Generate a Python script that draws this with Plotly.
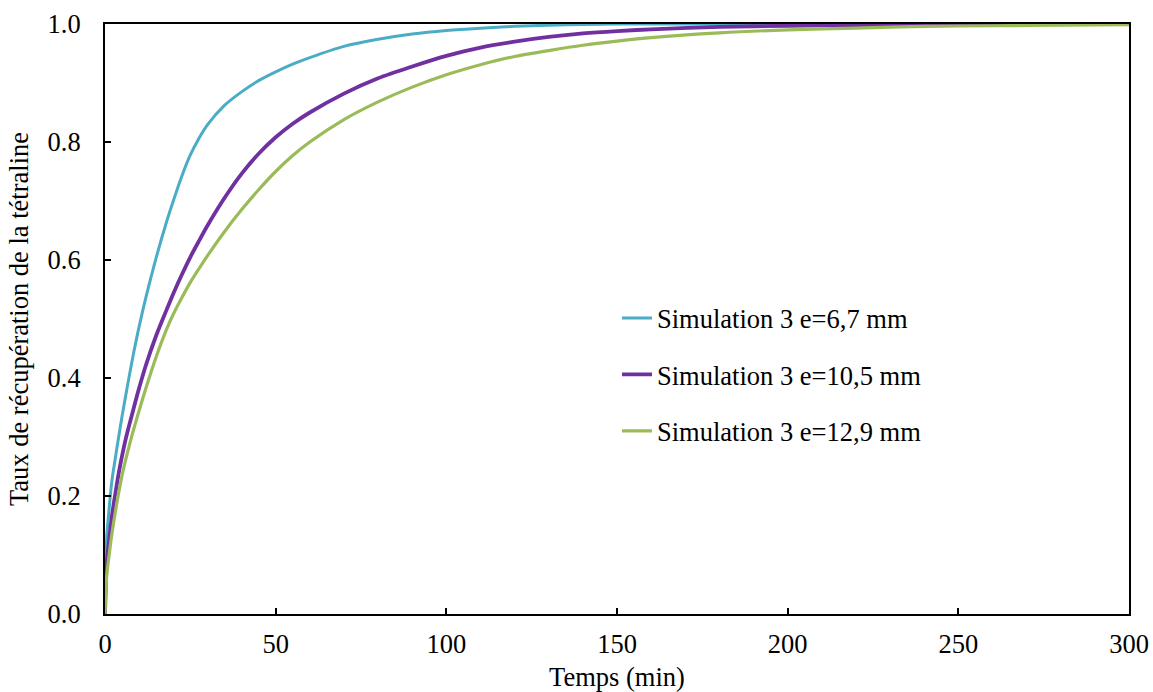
import plotly.graph_objects as go

# Time (min)
t = [0, 0.5, 1, 2, 3, 4, 5, 6, 7, 8, 9, 10, 12, 15, 18, 20, 22.5, 25, 27.5, 30,
     35, 40, 45, 50, 55, 60, 70, 80, 90, 100, 110, 120, 130, 140, 150, 160,
     180, 200, 220, 240, 260, 280, 300]

# Recovery rate, Simulation 3 e=6,7 mm
y_67 = [0, 0.13, 0.165, 0.225, 0.263, 0.30, 0.335, 0.368, 0.40, 0.431, 0.46,
        0.487, 0.537, 0.604, 0.664, 0.70, 0.742, 0.778, 0.806, 0.829, 0.862,
        0.885, 0.904, 0.919, 0.932, 0.943, 0.962, 0.974, 0.983, 0.989, 0.993,
        0.996, 0.998, 0.999, 1.0, 1.0, 1.0, 1.0, 1.0, 1.0, 1.0, 1.0, 1.0]

# Simulation 3 e=10,5 mm
y_105 = [0, 0.085, 0.115, 0.165, 0.203, 0.238, 0.268, 0.295, 0.318, 0.34,
         0.362, 0.383, 0.422, 0.472, 0.515, 0.543, 0.575, 0.605, 0.632, 0.658,
         0.705, 0.746, 0.78, 0.808, 0.831, 0.85, 0.882, 0.908, 0.928, 0.946,
         0.96, 0.97, 0.978, 0.984, 0.988, 0.991, 0.995, 0.997, 0.998, 0.999,
         1.0, 1.0, 1.0]

# Simulation 3 e=12,9 mm
y_129 = [0, 0.065, 0.09, 0.135, 0.172, 0.205, 0.235, 0.26, 0.283, 0.305, 0.325,
         0.345, 0.383, 0.436, 0.482, 0.508, 0.536, 0.562, 0.585, 0.607, 0.648,
         0.685, 0.719, 0.75, 0.777, 0.8, 0.838, 0.868, 0.893, 0.914, 0.931,
         0.945, 0.955, 0.964, 0.971, 0.977, 0.985, 0.99, 0.993, 0.996, 0.997,
         0.998, 0.999]

names = ["Simulation 3 e=6,7 mm", "Simulation 3 e=10,5 mm", "Simulation 3 e=12,9 mm"]
colors = ["#4BACC6", "#7030A0", "#9BBB59"]
widths = [3, 3.8, 3.2]
series = [y_67, y_105, y_129]

fig = go.Figure()
for i, (nm, ys) in enumerate(zip(names, series)):
    fig.add_trace(go.Scatter(
        x=t, y=ys, mode="lines", name=nm,
        line=dict(color=colors[i], width=widths[i], shape="spline", smoothing=0.8),
        legendgroup=f"g{i}",
    ))

font_family = "Liberation Serif, Times New Roman, serif"
fs = 26.5

fig.update_layout(
    width=1153, height=692,
    margin=dict(l=105, r=24, t=24, b=78),
    paper_bgcolor="white", plot_bgcolor="white",
    font=dict(family=font_family, size=fs, color="black"),
    showlegend=True,
    legend=dict(
        x=0.5, y=0.542, xanchor="left", yanchor="top",
        bgcolor="rgba(0,0,0,0)", borderwidth=0,
        tracegroupgap=19,
        font=dict(family=font_family, size=fs, color="black"),
    ),
)

fig.update_xaxes(
    range=[0, 300], dtick=50, tick0=0, automargin=False,
    showgrid=False, zeroline=False,
    showline=True, linecolor="black", linewidth=2, mirror=True,
    ticks="inside", ticklen=6, tickwidth=1.5, tickcolor="black",
    ticklabelstandoff=5,
    title=dict(text="Temps (min)", standoff=10,
               font=dict(family=font_family, size=fs)),
)
fig.update_yaxes(
    range=[0, 1], dtick=0.2, tick0=0, tickformat=".1f", automargin=False,
    showgrid=False, zeroline=False,
    showline=True, linecolor="black", linewidth=2, mirror=True,
    ticks="inside", ticklen=6, tickwidth=1.5, tickcolor="black",
    ticklabelstandoff=17,
    title=dict(text="Taux de récupération de la tétraline", standoff=11,
               font=dict(family=font_family, size=fs)),
)

fig.write_html("out.html", config={"displayModeBar": False},
               post_script="document.body.style.margin='0';")
